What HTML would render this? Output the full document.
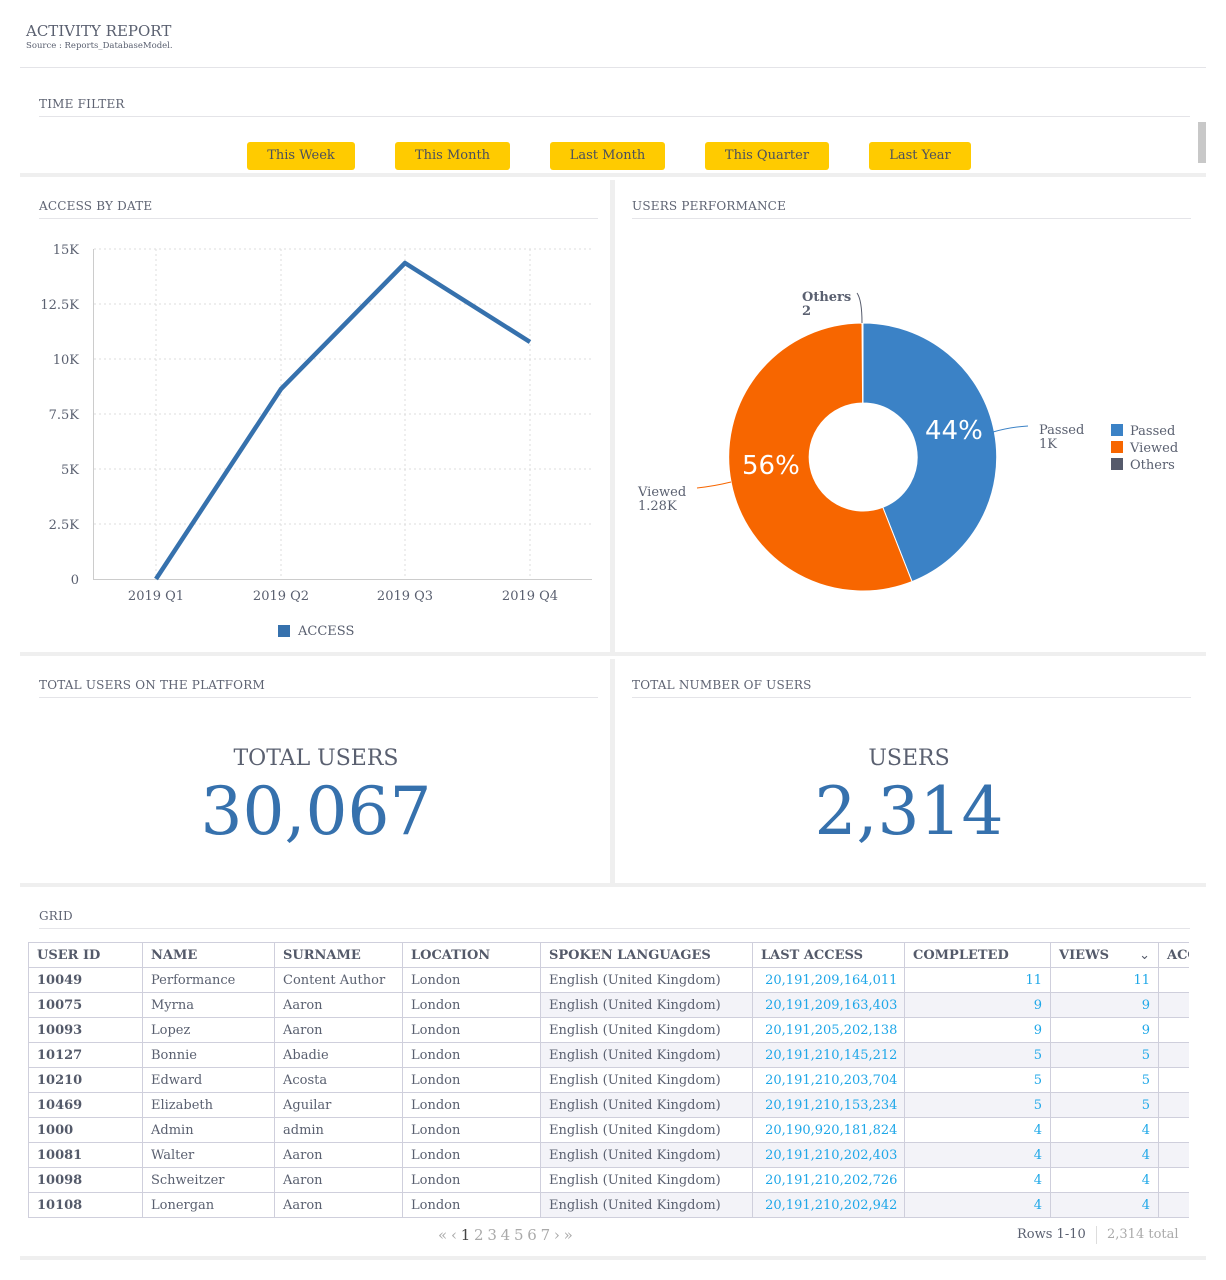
<!DOCTYPE html>
<html><head><meta charset="utf-8">
<style>
*{margin:0;padding:0;box-sizing:border-box}
body{width:1226px;height:1280px;background:#fff;font-family:"DejaVu Serif","Liberation Serif",serif;color:#5a6070;position:relative;overflow:hidden}
.a{position:absolute;white-space:nowrap}
.hr{position:absolute;height:1px;background:#e4e4e8}
.sep{position:absolute;background:#efefef}
.ttl{position:absolute;font-size:12px;color:#5f6473;letter-spacing:0.2px}
.btn{position:absolute;top:142px;height:28px;background:#ffcb00;border-radius:3px;font-size:13px;color:#4a4f5e;text-align:center;line-height:28px}
table{position:absolute;left:28px;top:942px;border-collapse:collapse;font-size:13px;table-layout:fixed}
td{border:1px solid #cfcfdc;height:25px;padding:0 8px;color:#5a6070;overflow:hidden;white-space:nowrap}
tr.h td{font-weight:bold;color:#545a6a}
td.b{font-weight:bold;color:#545a6a}
td.l{color:#1ea7e8}
td.r{color:#1ea7e8;text-align:right}
tr.s td.st{background:#f3f3f8}
</style></head><body>
<div class="a" style="left:26px;top:22px;font-size:15px;color:#5a6070">ACTIVITY REPORT</div>
<div class="a" style="left:26px;top:41px;font-size:8.5px;color:#5a6070">Source : Reports_DatabaseModel.</div>
<div class="hr" style="left:20px;top:67px;width:1186px"></div>
<div class="ttl" style="left:39px;top:97px">TIME FILTER</div>
<div class="hr" style="left:39px;top:116px;width:1151px"></div>
<div class="a" style="left:1198px;top:122px;width:8px;height:41px;background:#c8c8c8"></div>
<div class="btn" style="left:247px;width:108px">This Week</div>
<div class="btn" style="left:395px;width:115px">This Month</div>
<div class="btn" style="left:550px;width:115px">Last Month</div>
<div class="btn" style="left:705px;width:124px">This Quarter</div>
<div class="btn" style="left:869px;width:102px">Last Year</div>
<div class="sep" style="left:20px;top:173px;width:1186px;height:4px"></div>
<div class="sep" style="left:610px;top:180px;width:5px;height:472px"></div>
<div class="sep" style="left:20px;top:652px;width:1186px;height:4px"></div>
<div class="sep" style="left:610px;top:659px;width:5px;height:224px"></div>
<div class="sep" style="left:20px;top:883px;width:1186px;height:4px"></div>
<div class="sep" style="left:20px;top:1256px;width:1186px;height:4px"></div>

<div class="ttl" style="left:39px;top:199px">ACCESS BY DATE</div>
<div class="hr" style="left:39px;top:218px;width:559px"></div>
<div class="ttl" style="left:632px;top:199px">USERS PERFORMANCE</div>
<div class="hr" style="left:632px;top:218px;width:559px"></div>

<svg class="a" style="left:0;top:0" width="1226" height="660" font-family="DejaVu Serif,serif" font-size="13" fill="#5a6070">
<g stroke="#dcdcdc" stroke-dasharray="2,3" stroke-width="1">
<line x1="94" y1="249" x2="592" y2="249"/><line x1="94" y1="304" x2="592" y2="304"/><line x1="94" y1="359" x2="592" y2="359"/><line x1="94" y1="414" x2="592" y2="414"/><line x1="94" y1="469" x2="592" y2="469"/><line x1="94" y1="524" x2="592" y2="524"/>
<line x1="156" y1="249" x2="156" y2="579"/><line x1="281" y1="249" x2="281" y2="579"/><line x1="405" y1="249" x2="405" y2="579"/><line x1="530" y1="249" x2="530" y2="579"/>
</g>
<line x1="93.5" y1="249" x2="93.5" y2="579" stroke="#ccc"/>
<line x1="93" y1="579.5" x2="592" y2="579.5" stroke="#ccc"/>
<g text-anchor="end"><text x="79" y="254">15K</text><text x="79" y="309">12.5K</text><text x="79" y="364">10K</text><text x="79" y="419">7.5K</text><text x="79" y="474">5K</text><text x="79" y="529">2.5K</text><text x="79" y="584">0</text></g>
<g text-anchor="middle"><text x="156" y="600">2019 Q1</text><text x="281" y="600">2019 Q2</text><text x="405" y="600">2019 Q3</text><text x="530" y="600">2019 Q4</text></g>
<polyline points="156,579 281,389 405,263 530,342" fill="none" stroke="#3671ad" stroke-width="4.5" stroke-linejoin="round"/>
<rect x="278" y="625" width="12" height="12" fill="#3671ad"/><text x="298" y="635">ACCESS</text>

<path d="M863,323 A134,134 0 0 1 912,581.6 L882.8,507.3 A54,54 0 0 0 863,403 Z" fill="#3b82c6" stroke="#fff" stroke-width="1"/>
<path d="M912,581.6 A134,134 0 1 1 862,323 L862.6,403 A54,54 0 1 0 882.8,507.3 Z" fill="#f76600" stroke="#fff" stroke-width="1"/>
<path d="M857,293 Q862,300 862,323" fill="none" stroke="#555a6b"/>
<path d="M993,432 Q1010,427 1028,426" fill="none" stroke="#3b82c6"/>
<path d="M697,488 Q715,486 731,482" fill="none" stroke="#f76600"/>
<text x="802" y="301" font-weight="bold">Others</text><text x="802" y="315" font-weight="bold">2</text>
<text x="1039" y="434">Passed</text><text x="1039" y="448">1K</text>
<text x="638" y="496">Viewed</text><text x="638" y="510">1.28K</text>
<text x="925" y="439" font-family="DejaVu Sans,sans-serif" font-size="26" fill="#fff">44%</text>
<text x="742" y="474" font-family="DejaVu Sans,sans-serif" font-size="26" fill="#fff">56%</text>
<rect x="1111" y="424" width="12" height="12" fill="#3b82c6"/><text x="1130" y="435">Passed</text>
<rect x="1111" y="441" width="12" height="12" fill="#f76600"/><text x="1130" y="452">Viewed</text>
<rect x="1111" y="458" width="12" height="12" fill="#555a6b"/><text x="1130" y="469">Others</text>
</svg>

<div class="ttl" style="left:39px;top:678px">TOTAL USERS ON THE PLATFORM</div>
<div class="hr" style="left:39px;top:697px;width:559px"></div>
<div class="ttl" style="left:632px;top:678px">TOTAL NUMBER OF USERS</div>
<div class="hr" style="left:632px;top:697px;width:559px"></div>
<div class="a" style="left:20px;width:592px;top:746px;text-align:center;font-size:22px;color:#5a6070">TOTAL USERS</div>
<div class="a" style="left:20px;width:592px;top:773px;text-align:center;font-size:66px;color:#3671ad">30,067</div>
<div class="a" style="left:613px;width:592px;top:746px;text-align:center;font-size:22px;color:#5a6070">USERS</div>
<div class="a" style="left:613px;width:592px;top:773px;text-align:center;font-size:66px;color:#3671ad">2,314</div>

<div class="ttl" style="left:39px;top:909px">GRID</div>
<div class="hr" style="left:39px;top:928px;width:1151px"></div>
<div class="a" style="left:28px;top:942px;width:1161px;height:276px;overflow:hidden">
<table style="left:0;top:0;width:1200px">
<colgroup><col style="width:114px"><col style="width:132px"><col style="width:128px"><col style="width:138px"><col style="width:212px"><col style="width:152px"><col style="width:146px"><col style="width:108px"><col style="width:70px"></colgroup>
<tr class="h"><td>USER ID</td><td>NAME</td><td>SURNAME</td><td>LOCATION</td><td>SPOKEN LANGUAGES</td><td>LAST ACCESS</td><td>COMPLETED</td><td>VIEWS <span style="float:right;font-weight:normal">&#8964;</span></td><td>ACCESS</td></tr>
<tr><td class="b">10049</td><td>Performance</td><td>Content Author</td><td>London</td><td class="st">English (United Kingdom)</td><td class="l st">&nbsp;20,191,209,164,011</td><td class="r st">11</td><td class="r st">11</td><td class="st"></td></tr>
<tr class="s"><td class="b">10075</td><td>Myrna</td><td>Aaron</td><td>London</td><td class="st">English (United Kingdom)</td><td class="l st">&nbsp;20,191,209,163,403</td><td class="r st">9</td><td class="r st">9</td><td class="st"></td></tr>
<tr><td class="b">10093</td><td>Lopez</td><td>Aaron</td><td>London</td><td class="st">English (United Kingdom)</td><td class="l st">&nbsp;20,191,205,202,138</td><td class="r st">9</td><td class="r st">9</td><td class="st"></td></tr>
<tr class="s"><td class="b">10127</td><td>Bonnie</td><td>Abadie</td><td>London</td><td class="st">English (United Kingdom)</td><td class="l st">&nbsp;20,191,210,145,212</td><td class="r st">5</td><td class="r st">5</td><td class="st"></td></tr>
<tr><td class="b">10210</td><td>Edward</td><td>Acosta</td><td>London</td><td class="st">English (United Kingdom)</td><td class="l st">&nbsp;20,191,210,203,704</td><td class="r st">5</td><td class="r st">5</td><td class="st"></td></tr>
<tr class="s"><td class="b">10469</td><td>Elizabeth</td><td>Aguilar</td><td>London</td><td class="st">English (United Kingdom)</td><td class="l st">&nbsp;20,191,210,153,234</td><td class="r st">5</td><td class="r st">5</td><td class="st"></td></tr>
<tr><td class="b">1000</td><td>Admin</td><td>admin</td><td>London</td><td class="st">English (United Kingdom)</td><td class="l st">&nbsp;20,190,920,181,824</td><td class="r st">4</td><td class="r st">4</td><td class="st"></td></tr>
<tr class="s"><td class="b">10081</td><td>Walter</td><td>Aaron</td><td>London</td><td class="st">English (United Kingdom)</td><td class="l st">&nbsp;20,191,210,202,403</td><td class="r st">4</td><td class="r st">4</td><td class="st"></td></tr>
<tr><td class="b">10098</td><td>Schweitzer</td><td>Aaron</td><td>London</td><td class="st">English (United Kingdom)</td><td class="l st">&nbsp;20,191,210,202,726</td><td class="r st">4</td><td class="r st">4</td><td class="st"></td></tr>
<tr class="s"><td class="b">10108</td><td>Lonergan</td><td>Aaron</td><td>London</td><td class="st">English (United Kingdom)</td><td class="l st">&nbsp;20,191,210,202,942</td><td class="r st">4</td><td class="r st">4</td><td class="st"></td></tr>
</table></div>
<div class="a" style="left:438px;top:1226px;font-size:15px;color:#aaa;letter-spacing:-0.5px">« ‹ <span style="color:#444">1</span> 2 3 4 5 6 7 › »</div>
<div class="a" style="left:1017px;top:1227px;font-size:13px;color:#5a6070">Rows 1-10</div>
<div class="a" style="left:1096px;top:1226px;width:1px;height:18px;background:#ddd"></div>
<div class="a" style="left:1107px;top:1227px;font-size:13px;color:#aaa">2,314 total</div>
</body></html>
